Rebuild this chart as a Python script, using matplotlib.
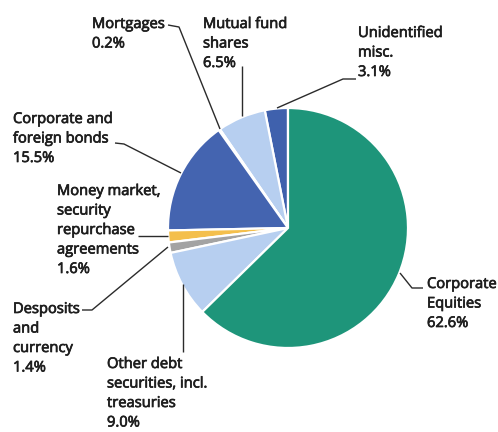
import matplotlib
matplotlib.use('Agg')
import matplotlib.pyplot as plt
import matplotlib.patheffects as pe

plt.rcParams['font.family'] = ['Open Sans', 'DejaVu Sans']

# Holdings shares, listed counterclockwise from 12 o'clock
labels = [
    'Unidentified\nmisc.',
    'Mutual fund\nshares',
    'Mortgages',
    'Corporate and\nforeign bonds',
    'Money market,\nsecurity\nrepurchase\nagreements',
    'Desposits\nand\ncurrency',
    'Other debt\nsecurities, incl.\ntreasuries',
    'Corporate\nEquities',
]
shares = [3.1, 6.5, 0.2, 15.5, 1.6, 1.4, 9.0, 62.6]
colors = ['#3f61ad', '#b7cff0', '#9fc6b8', '#4464b0',
          '#f4bf4c', '#a3a3a3', '#b7cff0', '#1e957a']

W, H = 498, 432
fig = plt.figure(figsize=(W / 100, H / 100), dpi=100)
ax = fig.add_axes([0, 0, 1, 1])


def p(x, y):
    # pixel position (origin top-left) -> axes data coords
    return x, H - y


cx, cy = p(288, 228)
ax.pie(shares, colors=colors, startangle=90, counterclock=True,
       center=(cx, cy), radius=120,
       wedgeprops=dict(edgecolor='white', linewidth=1.6))
ax.set_xlim(0, W)
ax.set_ylim(0, H)
ax.set_aspect('equal')
ax.axis('off')

ink = '#1e1e1e'
text_kw = dict(fontsize=10.6, color=ink, va='baseline', ha='left',
               path_effects=[pe.withStroke(linewidth=0.5, foreground=ink)])
line_step = 19.5

# label anchor: left end of first line's baseline, in pixels
label_pos = [(358, 37), (203, 28), (92, 28), (13, 123),
             (57, 195), (13, 313), (107, 368), (427, 288)]
for lab, val, (x, y) in zip(labels, shares, label_pos):
    rows = lab.split('\n') + [f'{val:.1f}%']
    for i, row in enumerate(rows):
        ax.text(*p(x, y + i * line_step), row, **text_kw)

# leader lines (pixel paths)
leaders = [
    [(356, 79), (343, 79), (277, 108)],
    [(242, 66), (242, 116)],
    [(168, 25), (179, 27), (220, 129)],
    [(115, 143), (124, 144), (181, 173)],
    [(138, 236), (168, 236)],
    [(82, 310), (92, 310), (168, 247)],
    [(183, 352), (183, 284)],
    [(423, 288), (412, 288), (400, 273)],
]
for path in leaders:
    xs, ys = zip(*[p(x, y) for x, y in path])
    ax.plot(xs, ys, color='#2b2b2b', linewidth=1.0, solid_capstyle='butt')

plt.savefig('out.png', dpi=100)
